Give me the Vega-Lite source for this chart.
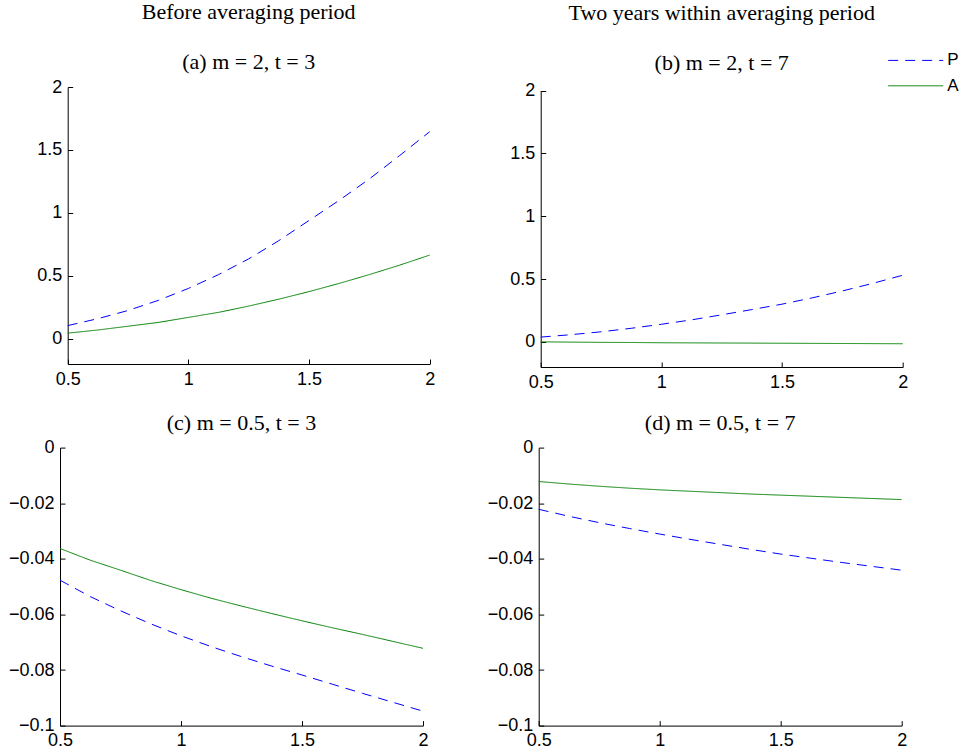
{
  "$schema": "https://vega.github.io/schema/vega-lite/v6.json",
  "background": "white",
  "padding": {"left": 8, "top": 1, "right": 2, "bottom": 2},
  "config": {
    "view": {"stroke": null},
    "axis": {
      "grid": false, "domainColor": "#000000", "tickColor": "#000000", "labelColor": "#000000",
      "labelFont": "Liberation Sans", "labelFontSize": 18, "tickSize": -5, "labelPadding": 11,
      "domainWidth": 1, "tickWidth": 1, "labelFlush": false, "labelOverlap": false, "title": null
    },
    "axisX": {"labelPadding": 11},
    "title": {
      "font": "Liberation Serif", "fontSize": 22, "fontWeight": "normal", "color": "#000000",
      "subtitleFont": "Liberation Serif", "subtitleFontSize": 22, "subtitleColor": "#000000",
      "subtitlePadding": 28, "anchor": "middle", "frame": "group", "offset": 0
    }
  },
  "data": {"values": [
    {"p":"a","s":"P","x":0.5,"y":0.105},{"p":"a","s":"P","x":0.625,"y":0.16},{"p":"a","s":"P","x":0.75,"y":0.225},{"p":"a","s":"P","x":0.875,"y":0.305},{"p":"a","s":"P","x":1.0,"y":0.40},{"p":"a","s":"P","x":1.125,"y":0.51},{"p":"a","s":"P","x":1.25,"y":0.635},{"p":"a","s":"P","x":1.375,"y":0.78},{"p":"a","s":"P","x":1.5,"y":0.94},{"p":"a","s":"P","x":1.625,"y":1.10},{"p":"a","s":"P","x":1.75,"y":1.27},{"p":"a","s":"P","x":1.875,"y":1.455},{"p":"a","s":"P","x":2.0,"y":1.645},
    {"p":"a","s":"A","x":0.5,"y":0.045},{"p":"a","s":"A","x":0.625,"y":0.07},{"p":"a","s":"A","x":0.75,"y":0.10},{"p":"a","s":"A","x":0.875,"y":0.13},{"p":"a","s":"A","x":1.0,"y":0.17},{"p":"a","s":"A","x":1.125,"y":0.21},{"p":"a","s":"A","x":1.25,"y":0.26},{"p":"a","s":"A","x":1.375,"y":0.315},{"p":"a","s":"A","x":1.5,"y":0.375},{"p":"a","s":"A","x":1.625,"y":0.44},{"p":"a","s":"A","x":1.75,"y":0.51},{"p":"a","s":"A","x":1.875,"y":0.585},{"p":"a","s":"A","x":2.0,"y":0.665},
    {"p":"b","s":"P","x":0.5,"y":0.038},{"p":"b","s":"P","x":0.625,"y":0.057},{"p":"b","s":"P","x":0.75,"y":0.08},{"p":"b","s":"P","x":0.875,"y":0.108},{"p":"b","s":"P","x":1.0,"y":0.14},{"p":"b","s":"P","x":1.125,"y":0.175},{"p":"b","s":"P","x":1.25,"y":0.215},{"p":"b","s":"P","x":1.375,"y":0.257},{"p":"b","s":"P","x":1.5,"y":0.30},{"p":"b","s":"P","x":1.625,"y":0.35},{"p":"b","s":"P","x":1.75,"y":0.405},{"p":"b","s":"P","x":1.875,"y":0.465},{"p":"b","s":"P","x":2.0,"y":0.53},
    {"p":"b","s":"A","x":0.5,"y":0.0},{"p":"b","s":"A","x":0.625,"y":-0.002},{"p":"b","s":"A","x":0.75,"y":-0.004},{"p":"b","s":"A","x":0.875,"y":-0.005},{"p":"b","s":"A","x":1.0,"y":-0.007},{"p":"b","s":"A","x":1.125,"y":-0.008},{"p":"b","s":"A","x":1.25,"y":-0.009},{"p":"b","s":"A","x":1.375,"y":-0.010},{"p":"b","s":"A","x":1.5,"y":-0.011},{"p":"b","s":"A","x":1.625,"y":-0.012},{"p":"b","s":"A","x":1.75,"y":-0.013},{"p":"b","s":"A","x":1.875,"y":-0.014},{"p":"b","s":"A","x":2.0,"y":-0.015},
    {"p":"c","s":"P","x":0.5,"y":-0.0477},{"p":"c","s":"P","x":0.625,"y":-0.0536},{"p":"c","s":"P","x":0.75,"y":-0.0587},{"p":"c","s":"P","x":0.875,"y":-0.0634},{"p":"c","s":"P","x":1.0,"y":-0.0677},{"p":"c","s":"P","x":1.125,"y":-0.0716},{"p":"c","s":"P","x":1.25,"y":-0.0752},{"p":"c","s":"P","x":1.375,"y":-0.0786},{"p":"c","s":"P","x":1.5,"y":-0.0818},{"p":"c","s":"P","x":1.625,"y":-0.0851},{"p":"c","s":"P","x":1.75,"y":-0.0884},{"p":"c","s":"P","x":1.875,"y":-0.0916},{"p":"c","s":"P","x":2.0,"y":-0.0948},
    {"p":"c","s":"A","x":0.5,"y":-0.0363},{"p":"c","s":"A","x":0.625,"y":-0.0405},{"p":"c","s":"A","x":0.75,"y":-0.0441},{"p":"c","s":"A","x":0.875,"y":-0.0478},{"p":"c","s":"A","x":1.0,"y":-0.0511},{"p":"c","s":"A","x":1.125,"y":-0.0542},{"p":"c","s":"A","x":1.25,"y":-0.0570},{"p":"c","s":"A","x":1.375,"y":-0.0597},{"p":"c","s":"A","x":1.5,"y":-0.0623},{"p":"c","s":"A","x":1.625,"y":-0.0648},{"p":"c","s":"A","x":1.75,"y":-0.0672},{"p":"c","s":"A","x":1.875,"y":-0.0697},{"p":"c","s":"A","x":2.0,"y":-0.0722},
    {"p":"d","s":"P","x":0.5,"y":-0.0222},{"p":"d","s":"P","x":0.625,"y":-0.0247},{"p":"d","s":"P","x":0.75,"y":-0.0270},{"p":"d","s":"P","x":0.875,"y":-0.0291},{"p":"d","s":"P","x":1.0,"y":-0.0311},{"p":"d","s":"P","x":1.125,"y":-0.0330},{"p":"d","s":"P","x":1.25,"y":-0.0348},{"p":"d","s":"P","x":1.375,"y":-0.0366},{"p":"d","s":"P","x":1.5,"y":-0.0383},{"p":"d","s":"P","x":1.625,"y":-0.0398},{"p":"d","s":"P","x":1.75,"y":-0.0413},{"p":"d","s":"P","x":1.875,"y":-0.0427},{"p":"d","s":"P","x":2.0,"y":-0.0441},
    {"p":"d","s":"A","x":0.5,"y":-0.0122},{"p":"d","s":"A","x":0.625,"y":-0.0131},{"p":"d","s":"A","x":0.75,"y":-0.0139},{"p":"d","s":"A","x":0.875,"y":-0.0146},{"p":"d","s":"A","x":1.0,"y":-0.0152},{"p":"d","s":"A","x":1.125,"y":-0.0157},{"p":"d","s":"A","x":1.25,"y":-0.0162},{"p":"d","s":"A","x":1.375,"y":-0.0167},{"p":"d","s":"A","x":1.5,"y":-0.0171},{"p":"d","s":"A","x":1.625,"y":-0.0175},{"p":"d","s":"A","x":1.75,"y":-0.0179},{"p":"d","s":"A","x":1.875,"y":-0.0183},{"p":"d","s":"A","x":2.0,"y":-0.0187}
  ]},
  "bounds": "full",
  "spacing": 20.6,
  "resolve": {"scale": {"color": "independent", "strokeDash": "independent"}},
  "vconcat": [
    {
      "bounds": "flush",
      "spacing": 110.7,
      "resolve": {"scale": {"color": "independent", "strokeDash": "independent"}},
      "hconcat": [
        {
          "width": 369.7, "height": 277,
          "title": {"text": "Before averaging period", "subtitle": "(a) m = 2, t = 3", "dx": 3.85},
          "transform": [{"filter": "datum.p == 'a'"}],
          "mark": {"type": "line", "strokeWidth": 1},
          "encoding": {
            "x": {"field": "x", "type": "quantitative", "scale": {"domain": [0.5, 2], "range": [7.7, 369.7], "nice": false, "zero": false}, "axis": {"values": [0.5, 1, 1.5, 2], "format": "~g"}},
            "y": {"field": "y", "type": "quantitative", "scale": {"domain": [-0.2, 2], "nice": false, "zero": false}, "axis": {"values": [0, 0.5, 1, 1.5, 2], "format": "~g", "offset": -7.7}},
            "color": {"field": "s", "type": "nominal", "scale": {"domain": ["P", "A"], "range": ["#0000ff", "#008000"]}, "legend": null},
            "strokeDash": {"field": "s", "type": "nominal", "scale": {"domain": ["P", "A"], "range": [[10, 7], [1, 0]]}, "legend": null}
          }
        },
        {
          "width": 362, "height": 280,
          "title": {"text": "Two years within averaging period", "subtitle": "(b) m = 2, t = 7", "offset": -22.6},
          "transform": [{"filter": "datum.p == 'b'"}],
          "mark": {"type": "line", "strokeWidth": 1},
          "encoding": {
            "x": {"field": "x", "type": "quantitative", "scale": {"domain": [0.5, 2], "nice": false, "zero": false}, "axis": {"values": [0.5, 1, 1.5, 2], "format": "~g"}},
            "y": {"field": "y", "type": "quantitative", "scale": {"domain": [-0.2, 2], "range": [280, 3.5], "nice": false, "zero": false}, "axis": {"values": [0, 0.5, 1, 1.5, 2], "format": "~g"}},
            "color": {"field": "s", "type": "nominal", "scale": {"domain": ["P", "A"], "range": ["#0000ff", "#008000"]},
              "legend": {"orient": "none", "legendX": 366.5, "legendY": -35.1, "symbolType": "M-5,0H5", "symbolSize": 121, "symbolStrokeWidth": 1, "labelFont": "Liberation Sans", "labelFontSize": 17, "labelColor": "#000000", "labelOffset": 23, "rowPadding": 7.4, "padding": 0, "title": null}},
            "strokeDash": {"field": "s", "type": "nominal", "scale": {"domain": ["P", "A"], "range": [[10, 7], [1, 0]]},
              "legend": {"orient": "none", "legendX": 366.5, "legendY": -35.1, "symbolType": "M-5,0H5", "symbolSize": 121, "symbolStrokeWidth": 1, "labelFont": "Liberation Sans", "labelFontSize": 17, "labelColor": "#000000", "labelOffset": 23, "rowPadding": 7.4, "padding": 0, "title": null}}
          }
        }
      ]
    },
    {
      "bounds": "flush",
      "spacing": 115.7,
      "resolve": {"scale": {"color": "independent", "strokeDash": "independent"}},
      "hconcat": [
        {
          "width": 363, "height": 278,
          "title": {"text": "(c) m = 0.5, t = 3"},
          "transform": [{"filter": "datum.p == 'c'"}],
          "mark": {"type": "line", "strokeWidth": 1},
          "encoding": {
            "x": {"field": "x", "type": "quantitative", "scale": {"domain": [0.5, 2], "nice": false, "zero": false}, "axis": {"values": [0.5, 1, 1.5, 2], "format": "~g"}},
            "y": {"field": "y", "type": "quantitative", "scale": {"domain": [-0.1, 0], "nice": false, "zero": false}, "axis": {"values": [-0.1, -0.08, -0.06, -0.04, -0.02, 0], "format": "~g"}},
            "color": {"field": "s", "type": "nominal", "scale": {"domain": ["P", "A"], "range": ["#0000ff", "#008000"]}, "legend": null},
            "strokeDash": {"field": "s", "type": "nominal", "scale": {"domain": ["P", "A"], "range": [[10, 7], [1, 0]]}, "legend": null}
          }
        },
        {
          "width": 363, "height": 278,
          "title": {"text": "(d) m = 0.5, t = 7"},
          "transform": [{"filter": "datum.p == 'd'"}],
          "mark": {"type": "line", "strokeWidth": 1},
          "encoding": {
            "x": {"field": "x", "type": "quantitative", "scale": {"domain": [0.5, 2], "nice": false, "zero": false}, "axis": {"values": [0.5, 1, 1.5, 2], "format": "~g"}},
            "y": {"field": "y", "type": "quantitative", "scale": {"domain": [-0.1, 0], "nice": false, "zero": false}, "axis": {"values": [-0.1, -0.08, -0.06, -0.04, -0.02, 0], "format": "~g"}},
            "color": {"field": "s", "type": "nominal", "scale": {"domain": ["P", "A"], "range": ["#0000ff", "#008000"]}, "legend": null},
            "strokeDash": {"field": "s", "type": "nominal", "scale": {"domain": ["P", "A"], "range": [[10, 7], [1, 0]]}, "legend": null}
          }
        }
      ]
    }
  ]
}
